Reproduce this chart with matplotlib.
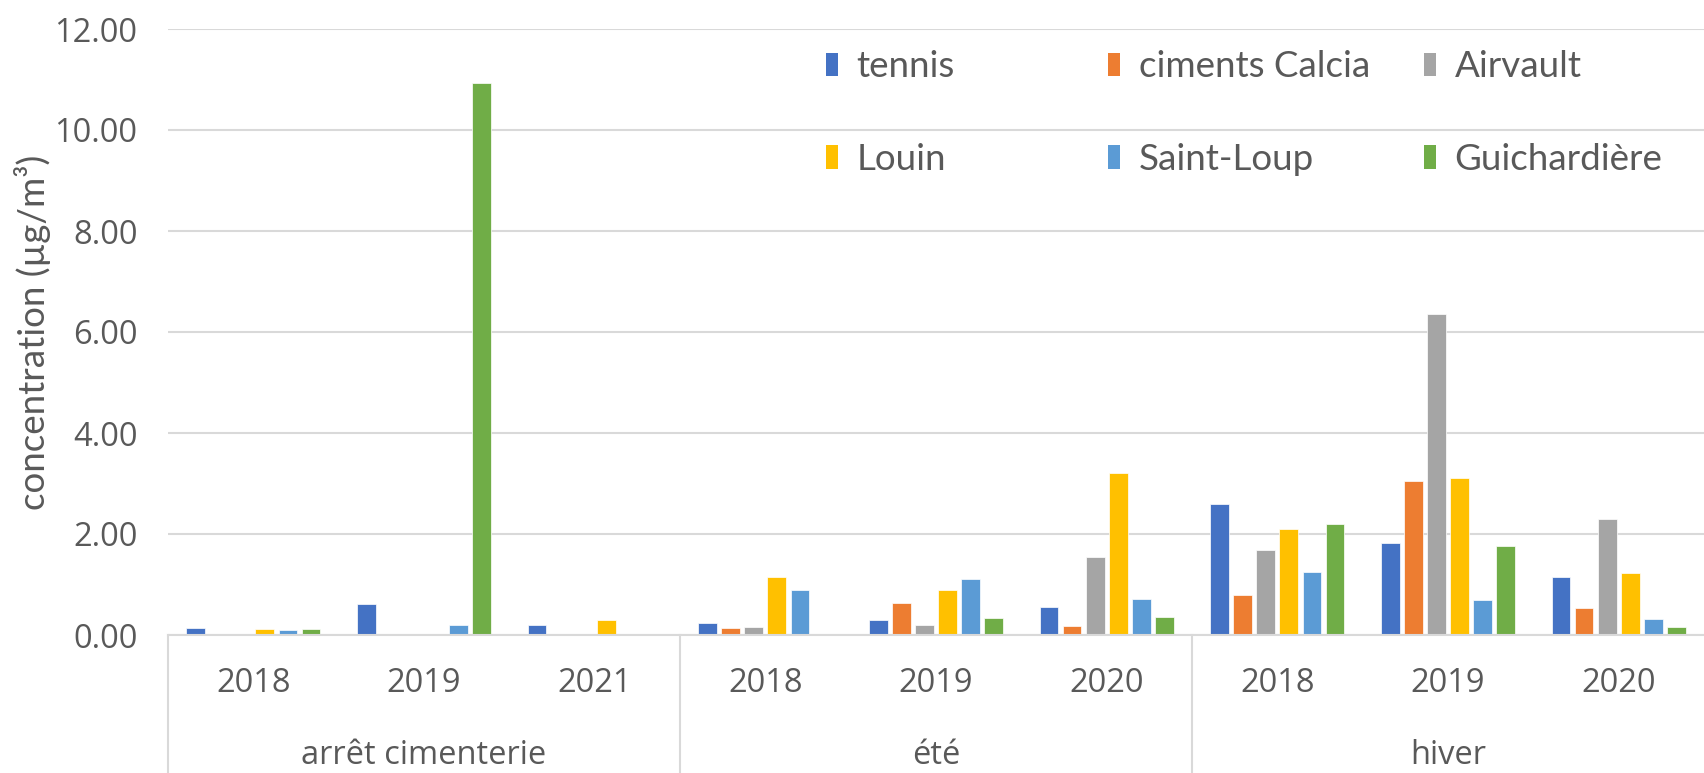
import numpy as np
import matplotlib
matplotlib.use("Agg")
import matplotlib.pyplot as plt
from matplotlib.patches import Patch
from matplotlib.transforms import blended_transform_factory

# categories (two-level axis)
years = ["2018", "2019", "2021", "2018", "2019", "2020", "2018", "2019", "2020"]
groups = ["arrêt cimenterie", "été", "hiver"]
group_sizes = [3, 3, 3]

nan = np.nan
series_names = ["tennis", "ciments Calcia", "Airvault", "Louin", "Saint-Loup", "Guichardière"]
tennis = [0.13, 0.61, 0.19, 0.24, 0.30, 0.56, 2.59, 1.83, 1.15]
ciments_calcia = [nan, nan, nan, 0.13, 0.64, 0.17, 0.79, 3.04, 0.53]
airvault = [nan, nan, nan, 0.16, 0.20, 1.55, 1.69, 6.36, 2.29]
louin = [0.12, nan, 0.30, 1.15, 0.89, 3.21, 2.09, 3.11, 1.22]
saint_loup = [0.10, 0.20, nan, 0.89, 1.11, 0.72, 1.24, 0.69, 0.31]
guichardiere = [0.11, 10.93, nan, nan, 0.34, 0.36, 2.19, 1.76, 0.15]

colors = ["#4472C4", "#ED7D31", "#A5A5A5", "#FFC000", "#5B9BD5", "#70AD47"]
all_series = [tennis, ciments_calcia, airvault, louin, saint_loup, guichardiere]

txt = "#595959"
grid_c = "#d9d9d9"
tick_font = "Open Sans"
lab_font = "Lato"

W, H = 1704, 773
fig = plt.figure(figsize=(W / 100, H / 100), dpi=100)
left, right, top, base = 168, 1704, 29, 635
ax = fig.add_axes([left / W, 1 - base / H, (right - left) / W, (base - top) / H])

x = np.arange(len(years))
pitch = 0.135
bw = 0.11
for j, (vals, c) in enumerate(zip(all_series, colors)):
    ax.bar(x + (j - 2.5) * pitch, vals, width=bw, color=c,
           edgecolor="white", linewidth=0.5, zorder=3)

ax.set_xlim(-0.5, len(years) - 0.5)
ax.set_ylim(0, 12)
ax.set_yticks(np.arange(0, 12.01, 2))
ax.set_yticklabels([f"{v:.2f}" for v in np.arange(0, 12.01, 2)],
                   fontsize=23.5, color=txt, family=tick_font)
ax.tick_params(axis="y", length=0, pad=22)
ax.set_xticks([])
ax.grid(axis="y", color=grid_c, linewidth=1.5, zorder=0)
for s in ["left", "right", "top"]:
    ax.spines[s].set_visible(False)
ax.spines["bottom"].set_color(grid_c)
ax.spines["bottom"].set_linewidth(1.5)
ax.spines["bottom"].set_zorder(4)

# two-level category labels
tr = blended_transform_factory(ax.transData, ax.transAxes)
ax_h = base - top
for i, y in enumerate(years):
    ax.text(i, -(684 - base) / ax_h, y, transform=tr, ha="center", va="center",
            fontsize=23.5, color=txt, family=tick_font)
start = 0
seps = [-0.5]
for g, n in zip(groups, group_sizes):
    ax.text(start + (n - 1) / 2, -(756 - base) / ax_h, g, transform=tr,
            ha="center", va="center", fontsize=23.5, color=txt, family=tick_font)
    start += n
    seps.append(start - 0.5)
for s in seps[:-1]:
    ax.plot([s, s], [0, -(H - base) / ax_h], transform=tr, color=grid_c,
            linewidth=1.5, clip_on=False)

ax.text(-(left - 33) / (right - left), 0.5, "concentration (µg/m³)",
        transform=ax.transAxes, rotation=90, ha="center", va="center",
        fontsize=26.5, color=txt, family=lab_font)

# legend: three columns, two rows
col_x = [826, 1108, 1424]
for k in range(3):
    hs = [Patch(facecolor=colors[k], edgecolor="none"),
          Patch(facecolor=colors[k + 3], edgecolor="none")]
    fig.legend(hs, [series_names[k], series_names[k + 3]], loc="center left",
               bbox_to_anchor=(col_x[k] / W, 1 - 113 / H), frameon=False,
               borderpad=0, borderaxespad=0, handlelength=0.33, handleheight=0.6,
               handletextpad=0.5, labelspacing=1.62,
               prop={"family": lab_font, "size": 26.5}, labelcolor=txt)

fig.savefig("out.png", dpi=100)
